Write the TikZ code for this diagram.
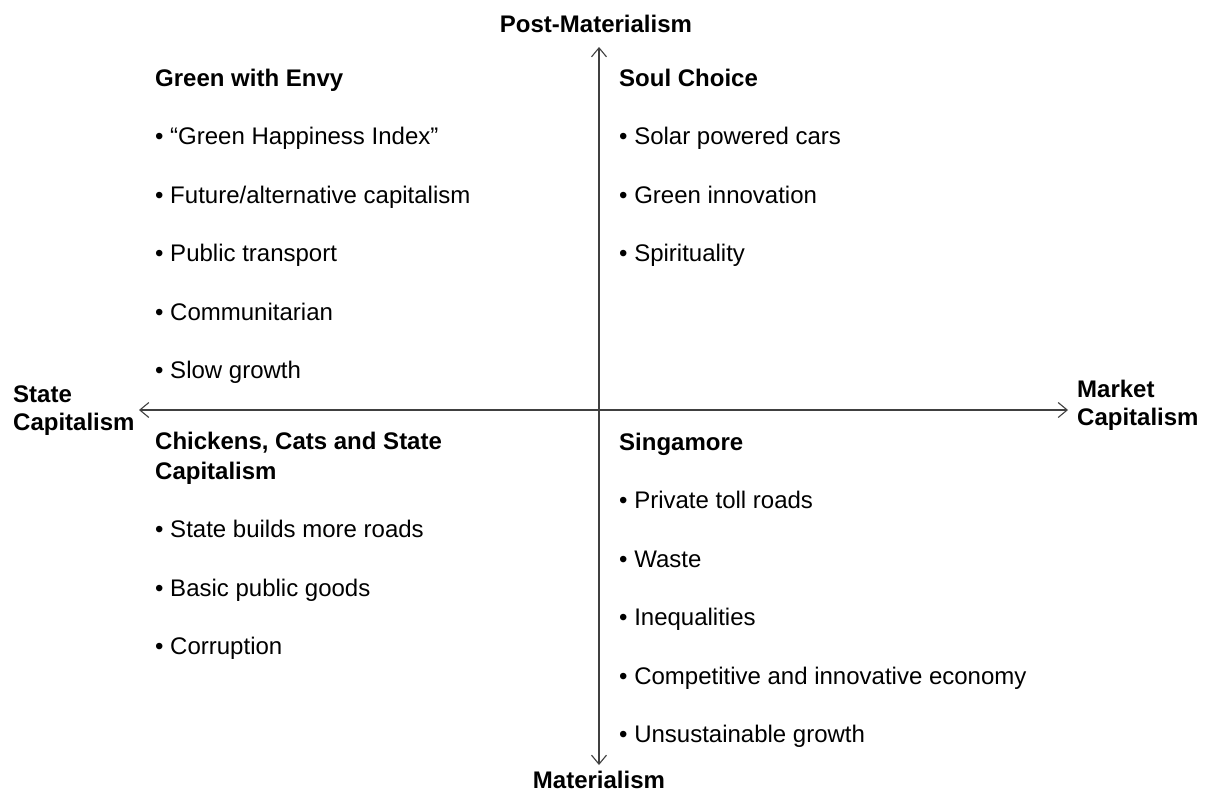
\documentclass[tikz,border=0pt]{standalone}
\usepackage{fontspec}
\setmainfont{Liberation Sans}
\usetikzlibrary{arrows.meta}
\tikzset{
	txt/.style={anchor=base west, inner sep=0pt, font=\fontsize{24}{28}\selectfont},
	head/.style={txt, font=\fontsize{24}{30}\selectfont\bfseries, align=left},
	axlabel/.style={head, font=\fontsize{24}{28}\selectfont\bfseries},
	axis/.style={line width=1.1pt, color=black!75, {Straight Barb[length=9pt,width=15pt]}-{Straight Barb[length=9pt,width=15pt]}}
}
\begin{document}
\begin{tikzpicture}[x=1pt, y=-1pt]
		%%%%% START %%%%%
		\useasboundingbox[fill=white] (0, 0) rectangle (1211, 796);
		
		\coordinate (top) at (599, 47);
		\coordinate (bottom) at (599, 765);
		\coordinate (left) at (139, 410);
		\coordinate (right) at (1068, 410);
		
		\draw[axis] (top) -- (bottom);
		\draw[axis] (left) -- (right);
		
		% two-line labels sit on their last baseline
		\node[axlabel, anchor=base] (postmat) at (596, 32) {Post-Materialism};
		\node[axlabel, anchor=base] (mat) at (599, 788) {Materialism};
		\node[axlabel] (state) at (13, 430) {State\\Capitalism};
		\node[axlabel] (market) at (1077, 425) {Market\\Capitalism};
		
		%% green with envy
		\node[head] (envy) at (155, 86) {Green with Envy};
		\node[txt] (envy1) at (155, 144) {• “Green Happiness Index”};
		\node[txt] (envy2) at (155, 203) {• Future/alternative capitalism};
		\node[txt] (envy3) at (155, 261) {• Public transport};
		\node[txt] (envy4) at (155, 320) {• Communitarian};
		\node[txt] (envy5) at (155, 378) {• Slow growth};
		
		%% soul choice
		\node[head] (soul) at (619, 86) {Soul Choice};
		\node[txt] (soul1) at (619, 144) {• Solar powered cars};
		\node[txt] (soul2) at (619, 203) {• Green innovation};
		\node[txt] (soul3) at (619, 261) {• Spirituality};
		
		%% chickens, cats and state capitalism
		\node[head] (chick) at (155, 479) {Chickens, Cats and State\\Capitalism};
		\node[txt] (chick1) at (155, 537) {• State builds more roads};
		\node[txt] (chick2) at (155, 596) {• Basic public goods};
		\node[txt] (chick3) at (155, 654) {• Corruption};
		
		%% singamore
		\node[head] (singa) at (619, 450) {Singamore};
		\node[txt] (singa1) at (619, 508) {• Private toll roads};
		\node[txt] (singa2) at (619, 567) {• Waste};
		\node[txt] (singa3) at (619, 625) {• Inequalities};
		\node[txt] (singa4) at (619, 684) {• Competitive and innovative economy};
		\node[txt] (singa5) at (619, 742) {• Unsustainable growth};
		
		%%%%% END %%%%%
	\end{tikzpicture}
\end{document}
